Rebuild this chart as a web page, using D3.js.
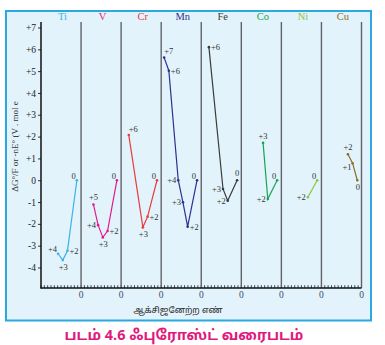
<!DOCTYPE html>
<html>
<head>
<meta charset="utf-8">
<script src="https://cdn.jsdelivr.net/npm/d3@7"></script>
<style>
  html, body { margin: 0; padding: 0; background: #ffffff; }
  svg { display: block; }
</style>
</head>
<body>
<svg id="chart" width="385" height="345"></svg>
<script>
// Frost diagram: ΔG°/F (= -nE°) against oxidation number for the 3d metals
const elements = ["Ti", "V", "Cr", "Mn", "Fe", "Co", "Ni", "Cu"];
const elementColors = ["#3bb3e6", "#e5198c", "#ea3b3b", "#2e3192", "#3a3a3a", "#15a655", "#8cc63f", "#8a6d2a"];

// oxidation numbers along each line (highest first)
const oxidationStates = [
  [4, 3, 2, 0],
  [5, 4, 3, 2, 0],
  [6, 3, 2, 0],
  [7, 6, 4, 3, 2, 0],
  [6, 3, 2, 0],
  [3, 2, 0],
  [2, 0],
  [2, 1, 0]
];

// ΔG°/F in V·mol e⁻ for each oxidation number above
const energies = [
  [-3.37, -3.66, -3.23, 0],
  [-1.11, -2.06, -2.62, -2.33, 0],
  [2.07, -2.16, -1.67, 0],
  [5.62, 5.02, 0.0, -1.01, -2.13, 0],
  [6.1, -0.4, -0.94, 0],
  [1.71, -0.86, 0],
  [-0.78, 0],
  [1.19, 0.78, 0]
];

const yTickValues = [7, 6, 5, 4, 3, 2, 1, 0, -1, -2, -3, -4];

// where each point's label sits relative to its point
const labelPlacement = [
  ["al", "b", "r", "al"],
  ["a", "l", "b", "r", "al"],
  ["ar", "b", "r", "al"],
  ["ar", "r", "l", "l", "r", "al"],
  ["r", "l", "l", "a"],
  ["a", "l", "al"],
  ["l", "al"],
  ["a", "bl", "b"]
];

const placements = {
  l:  { anchor: "end",    dx: -2,  dy: 3 },
  r:  { anchor: "start",  dx: 2,   dy: 3 },
  a:  { anchor: "middle", dx: 0,   dy: -4 },
  b:  { anchor: "middle", dx: 0.5, dy: 10 },
  al: { anchor: "end",    dx: -1,  dy: -1.5 },
  ar: { anchor: "start",  dx: 0,   dy: -3.5 },
  bl: { anchor: "end",    dx: -1,  dy: 7 }
};

const svg = d3.select("#chart");
const serif = "'Liberation Serif', 'DejaVu Serif', serif";
const tamil = "'Noto Sans Tamil', 'Latha', 'Noto Sans', sans-serif";

// framed panel
svg.append("rect")
  .attr("x", 6).attr("y", 11).attr("width", 365).attr("height", 309.5)
  .attr("fill", "#e2f3fb")
  .attr("stroke", "#2aa9e0").attr("stroke-width", 2);

const plot = { left: 41, right: 361.5, top: 22, bottom: 288 };

// y: energy
const y = d3.scaleLinear().domain([-4, 7]).range([267.5, 27.5]);
// x: panel boundaries, one panel per element
const panelX = d3.scaleLinear().domain([0, elements.length]).range([plot.left, plot.right]);
// oxidation number inside a panel, measured leftwards from the panel's right edge
const oxOffset = d3.scaleLinear().domain([0, 7]).range([-4.2, -4.2 - 7 * 4.7]);
const xPoint = (i, ox) => panelX(i + 1) + oxOffset(ox);

// minor ticks along the bottom axis
const minorTicks = d3.range(0, elements.length * 12 + 1).map(k => k / 12);
svg.append("g").selectAll("line")
  .data(minorTicks)
  .join("line")
  .attr("x1", d => panelX(d)).attr("x2", d => panelX(d))
  .attr("y1", plot.bottom).attr("y2", plot.bottom - 2.8)
  .attr("stroke", "#2b3a4a").attr("stroke-width", 0.9);

// panel separators
svg.append("g").selectAll("line")
  .data(d3.range(1, elements.length + 1))
  .join("line")
  .attr("x1", d => panelX(d)).attr("x2", d => panelX(d))
  .attr("y1", plot.top).attr("y2", plot.bottom)
  .attr("stroke", "#606468").attr("stroke-width", 1.4);

// y axis
const yAxis = d3.axisLeft(y)
  .tickValues(yTickValues)
  .tickSize(3)
  .tickPadding(2)
  .tickFormat(d => d > 0 ? "+" + d : (d < 0 ? "-" + Math.abs(d) : "0"));
const gy = svg.append("g").attr("transform", `translate(${plot.left},0)`).call(yAxis);
gy.select(".domain").remove();
gy.selectAll(".tick line").attr("stroke", "#333");
gy.selectAll(".tick text")
  .attr("font-family", serif).attr("font-size", 9.5).attr("fill", "#222");

svg.append("line")
  .attr("x1", plot.left).attr("x2", plot.left)
  .attr("y1", plot.top).attr("y2", plot.bottom + 0.7)
  .attr("stroke", "#111").attr("stroke-width", 1.5);
svg.append("line")
  .attr("x1", plot.left).attr("x2", plot.right)
  .attr("y1", plot.bottom).attr("y2", plot.bottom)
  .attr("stroke", "#111").attr("stroke-width", 1.5);

// zero labels at each panel's right edge
svg.append("g").selectAll("text")
  .data(d3.range(1, elements.length + 1))
  .join("text")
  .attr("x", d => panelX(d)).attr("y", 298)
  .attr("text-anchor", "middle")
  .attr("font-family", serif).attr("font-size", 9.5)
  .attr("fill", "#3d4b66")
  .text("0");

// element names
svg.append("g").selectAll("text")
  .data(elements)
  .join("text")
  .attr("x", (d, i) => (panelX(i) + panelX(i + 1)) / 2 + 1.5)
  .attr("y", 19.5)
  .attr("text-anchor", "middle")
  .attr("font-family", serif).attr("font-size", 10.5)
  .attr("fill", (d, i) => elementColors[i])
  .text(d => d);

// one line per element
const line = d3.line().x(d => d.x).y(d => d.y);
elements.forEach((el, i) => {
  const pts = oxidationStates[i].map((ox, j) => ({
    ox, x: xPoint(i, ox), y: y(energies[i][j]), place: placements[labelPlacement[i][j]]
  }));
  const g = svg.append("g");
  g.append("path")
    .attr("d", line(pts))
    .attr("fill", "none")
    .attr("stroke", elementColors[i])
    .attr("stroke-width", 1.2);
  g.selectAll("circle")
    .data(pts)
    .join("circle")
    .attr("cx", d => d.x).attr("cy", d => d.y).attr("r", 1.3)
    .attr("fill", elementColors[i]);
  g.selectAll("text")
    .data(pts)
    .join("text")
    .attr("x", d => d.x + d.place.dx)
    .attr("y", d => d.y + d.place.dy)
    .attr("text-anchor", d => d.place.anchor)
    .attr("font-family", serif).attr("font-size", 8.5)
    .attr("fill", "#333")
    .text(d => d.ox > 0 ? "+" + d.ox : "0");
});

// axis titles
svg.append("text")
  .attr("transform", "translate(18,146.5) rotate(-90)")
  .attr("text-anchor", "middle")
  .attr("font-family", serif).attr("font-size", 9)
  .attr("fill", "#333")
  .text("ΔG°/F or -nE° (V . mol e");

svg.append("text")
  .attr("x", 178).attr("y", 312.5)
  .attr("text-anchor", "middle")
  .attr("font-family", tamil).attr("font-size", 8.5)
  .attr("fill", "#222")
  .text("ஆக்சிஜனேற்ற எண்");

// caption
svg.append("text")
  .attr("x", 184).attr("y", 340)
  .attr("text-anchor", "middle")
  .attr("font-family", tamil).attr("font-size", 14.5).attr("font-weight", "bold")
  .attr("fill", "#e0197d")
  .text("படம் 4.6 ஃபுரோஸ்ட் வரைபடம்");
</script>
</body>
</html>
